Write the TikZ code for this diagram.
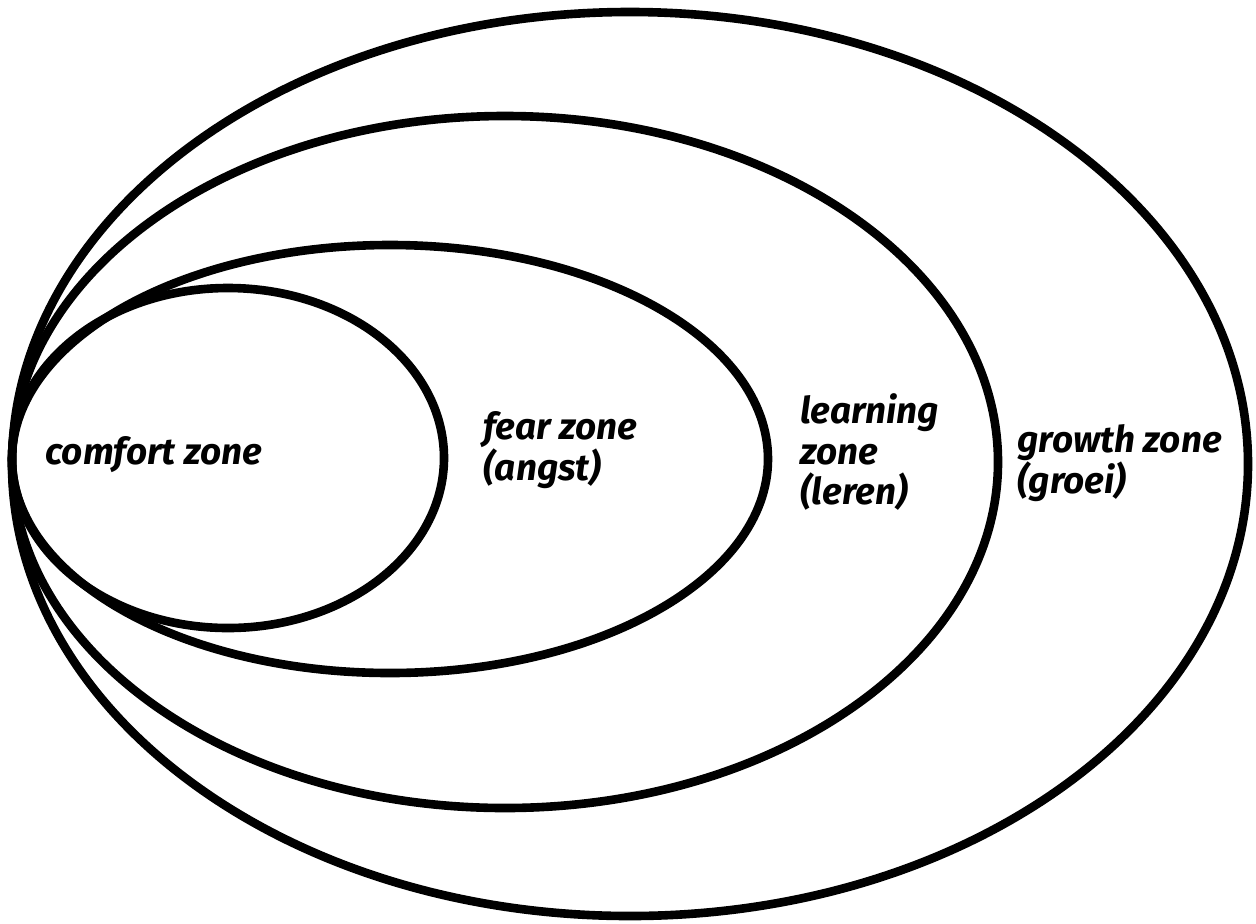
\documentclass[tikz,border=0pt]{standalone}
\usepackage{fontspec}
\setmainfont{Fira Sans}
\usepackage{tikz}
\usetikzlibrary{positioning}
\tikzset{
  zone/.style={line width=4.9pt, black},
  zonelabel/.style={anchor=west, align=left, inner sep=0pt,
    font=\fontsize{21}{23}\selectfont\bfseries\itshape}
}

\begin{document}
\begin{tikzpicture}[x=0.02cm, y=-0.02cm]
\useasboundingbox (0,0) rectangle (1256,923);

%--- nested zones, all touching at the left -----------------------------------
\draw[zone] (630,464) ellipse [x radius=618, y radius=452];
\draw[zone] (505,462) ellipse [x radius=493, y radius=346];
\draw[zone] (390,459) ellipse [x radius=378, y radius=214];
\draw[zone] (228,458) ellipse [x radius=216, y radius=170];

%--- labels -------------------------------------------------------------------
\node[zonelabel] (comfort) at (45,455) {comfort zone};
\node[zonelabel] (fear) at (483,450) {fear zone\\(angst)};
\node[zonelabel] (learning) at (800,452) {learning\\zone\\(leren)};
\node[zonelabel] (growth) at (1017,463) {growth zone\\(groei)};

\end{tikzpicture}
\end{document}
